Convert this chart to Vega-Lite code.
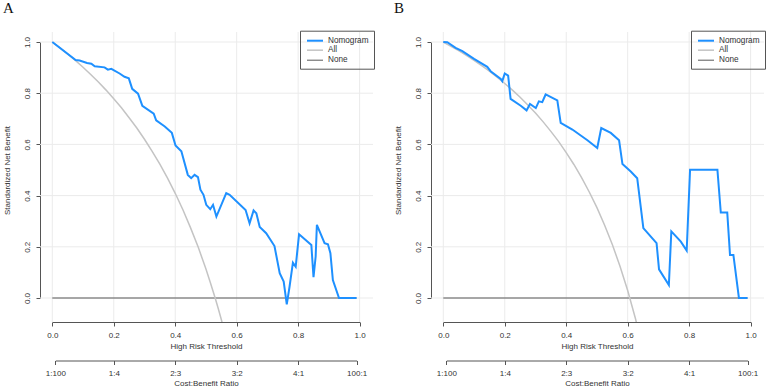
{
  "$schema": "https://vega.github.io/schema/vega-lite/v6.json",
  "background": "white",
  "padding": {"left": 3, "top": 1, "right": 0, "bottom": 0},
  "bounds": "flush",
  "spacing": 58,
  "config": {"view": {"stroke": null}},
  "datasets": {
    "grid": [{"g": 0}, {"g": 0.2}, {"g": 0.4}, {"g": 0.6}, {"g": 0.8}, {"g": 1}],
    "cb": [{"cb": 0.0099}, {"cb": 0.9901}],
    "a": [
      {"series": "None", "t": 0, "nb": 0}, {"series": "None", "t": 0.99, "nb": 0},
      {"series": "All", "t": 0, "nb": 1}, {"series": "All", "t": 0.025, "nb": 0.977}, {"series": "All", "t": 0.05, "nb": 0.953}, {"series": "All", "t": 0.075, "nb": 0.928}, {"series": "All", "t": 0.1, "nb": 0.9015}, {"series": "All", "t": 0.125, "nb": 0.873}, {"series": "All", "t": 0.15, "nb": 0.8435}, {"series": "All", "t": 0.175, "nb": 0.812}, {"series": "All", "t": 0.2, "nb": 0.778}, {"series": "All", "t": 0.225, "nb": 0.743}, {"series": "All", "t": 0.25, "nb": 0.704}, {"series": "All", "t": 0.275, "nb": 0.664}, {"series": "All", "t": 0.3, "nb": 0.62}, {"series": "All", "t": 0.325, "nb": 0.573}, {"series": "All", "t": 0.35, "nb": 0.5225}, {"series": "All", "t": 0.375, "nb": 0.468}, {"series": "All", "t": 0.4, "nb": 0.409}, {"series": "All", "t": 0.425, "nb": 0.3445}, {"series": "All", "t": 0.45, "nb": 0.274}, {"series": "All", "t": 0.475, "nb": 0.198}, {"series": "All", "t": 0.5, "nb": 0.113}, {"series": "All", "t": 0.515, "nb": 0.058}, {"series": "All", "t": 0.53, "nb": 0.0}, {"series": "All", "t": 0.54, "nb": -0.041}, {"series": "All", "t": 0.55, "nb": -0.084}, {"series": "All", "t": 0.57, "nb": -0.176},
      {"series": "Nomogram", "t": 0, "nb": 1}, {"series": "Nomogram", "t": 0.076, "nb": 0.93}, {"series": "Nomogram", "t": 0.089, "nb": 0.928}, {"series": "Nomogram", "t": 0.113, "nb": 0.918}, {"series": "Nomogram", "t": 0.127, "nb": 0.915}, {"series": "Nomogram", "t": 0.138, "nb": 0.905}, {"series": "Nomogram", "t": 0.17, "nb": 0.901}, {"series": "Nomogram", "t": 0.181, "nb": 0.892}, {"series": "Nomogram", "t": 0.192, "nb": 0.895}, {"series": "Nomogram", "t": 0.219, "nb": 0.877}, {"series": "Nomogram", "t": 0.235, "nb": 0.864}, {"series": "Nomogram", "t": 0.249, "nb": 0.858}, {"series": "Nomogram", "t": 0.26, "nb": 0.817}, {"series": "Nomogram", "t": 0.279, "nb": 0.798}, {"series": "Nomogram", "t": 0.293, "nb": 0.751}, {"series": "Nomogram", "t": 0.33, "nb": 0.72}, {"series": "Nomogram", "t": 0.338, "nb": 0.694}, {"series": "Nomogram", "t": 0.366, "nb": 0.67}, {"series": "Nomogram", "t": 0.389, "nb": 0.645}, {"series": "Nomogram", "t": 0.401, "nb": 0.596}, {"series": "Nomogram", "t": 0.42, "nb": 0.573}, {"series": "Nomogram", "t": 0.441, "nb": 0.481}, {"series": "Nomogram", "t": 0.452, "nb": 0.468}, {"series": "Nomogram", "t": 0.463, "nb": 0.481}, {"series": "Nomogram", "t": 0.474, "nb": 0.472}, {"series": "Nomogram", "t": 0.482, "nb": 0.423}, {"series": "Nomogram", "t": 0.492, "nb": 0.403}, {"series": "Nomogram", "t": 0.501, "nb": 0.364}, {"series": "Nomogram", "t": 0.514, "nb": 0.347}, {"series": "Nomogram", "t": 0.523, "nb": 0.364}, {"series": "Nomogram", "t": 0.534, "nb": 0.318}, {"series": "Nomogram", "t": 0.566, "nb": 0.41}, {"series": "Nomogram", "t": 0.577, "nb": 0.403}, {"series": "Nomogram", "t": 0.629, "nb": 0.344}, {"series": "Nomogram", "t": 0.642, "nb": 0.292}, {"series": "Nomogram", "t": 0.655, "nb": 0.342}, {"series": "Nomogram", "t": 0.664, "nb": 0.331}, {"series": "Nomogram", "t": 0.675, "nb": 0.277}, {"series": "Nomogram", "t": 0.696, "nb": 0.253}, {"series": "Nomogram", "t": 0.723, "nb": 0.203}, {"series": "Nomogram", "t": 0.74, "nb": 0.097}, {"series": "Nomogram", "t": 0.753, "nb": 0.064}, {"series": "Nomogram", "t": 0.763, "nb": -0.025}, {"series": "Nomogram", "t": 0.772, "nb": 0.044}, {"series": "Nomogram", "t": 0.783, "nb": 0.138}, {"series": "Nomogram", "t": 0.792, "nb": 0.122}, {"series": "Nomogram", "t": 0.803, "nb": 0.249}, {"series": "Nomogram", "t": 0.843, "nb": 0.207}, {"series": "Nomogram", "t": 0.85, "nb": 0.081}, {"series": "Nomogram", "t": 0.857, "nb": 0.162}, {"series": "Nomogram", "t": 0.861, "nb": 0.286}, {"series": "Nomogram", "t": 0.886, "nb": 0.214}, {"series": "Nomogram", "t": 0.897, "nb": 0.21}, {"series": "Nomogram", "t": 0.905, "nb": 0.175}, {"series": "Nomogram", "t": 0.913, "nb": 0.07}, {"series": "Nomogram", "t": 0.933, "nb": 0}, {"series": "Nomogram", "t": 0.99, "nb": 0}
    ],
    "b": [
      {"series": "None", "t": 0, "nb": 0}, {"series": "None", "t": 0.99, "nb": 0},
      {"series": "All", "t": 0, "nb": 1}, {"series": "All", "t": 0.025, "nb": 0.983}, {"series": "All", "t": 0.05, "nb": 0.966}, {"series": "All", "t": 0.075, "nb": 0.9475}, {"series": "All", "t": 0.1, "nb": 0.928}, {"series": "All", "t": 0.125, "nb": 0.9075}, {"series": "All", "t": 0.15, "nb": 0.886}, {"series": "All", "t": 0.175, "nb": 0.863}, {"series": "All", "t": 0.2, "nb": 0.838}, {"series": "All", "t": 0.225, "nb": 0.812}, {"series": "All", "t": 0.25, "nb": 0.784}, {"series": "All", "t": 0.275, "nb": 0.754}, {"series": "All", "t": 0.3, "nb": 0.7225}, {"series": "All", "t": 0.325, "nb": 0.688}, {"series": "All", "t": 0.35, "nb": 0.651}, {"series": "All", "t": 0.375, "nb": 0.612}, {"series": "All", "t": 0.4, "nb": 0.568}, {"series": "All", "t": 0.425, "nb": 0.5215}, {"series": "All", "t": 0.45, "nb": 0.47}, {"series": "All", "t": 0.475, "nb": 0.414}, {"series": "All", "t": 0.5, "nb": 0.353}, {"series": "All", "t": 0.525, "nb": 0.2845}, {"series": "All", "t": 0.55, "nb": 0.209}, {"series": "All", "t": 0.575, "nb": 0.124}, {"series": "All", "t": 0.6, "nb": 0.029}, {"series": "All", "t": 0.625, "nb": -0.079}, {"series": "All", "t": 0.65, "nb": -0.202},
      {"series": "Nomogram", "t": 0, "nb": 1}, {"series": "Nomogram", "t": 0.013, "nb": 0.999}, {"series": "Nomogram", "t": 0.04, "nb": 0.977}, {"series": "Nomogram", "t": 0.062, "nb": 0.964}, {"series": "Nomogram", "t": 0.1, "nb": 0.934}, {"series": "Nomogram", "t": 0.143, "nb": 0.903}, {"series": "Nomogram", "t": 0.154, "nb": 0.886}, {"series": "Nomogram", "t": 0.187, "nb": 0.856}, {"series": "Nomogram", "t": 0.192, "nb": 0.847}, {"series": "Nomogram", "t": 0.2, "nb": 0.877}, {"series": "Nomogram", "t": 0.211, "nb": 0.869}, {"series": "Nomogram", "t": 0.219, "nb": 0.778}, {"series": "Nomogram", "t": 0.252, "nb": 0.751}, {"series": "Nomogram", "t": 0.271, "nb": 0.733}, {"series": "Nomogram", "t": 0.282, "nb": 0.758}, {"series": "Nomogram", "t": 0.301, "nb": 0.742}, {"series": "Nomogram", "t": 0.311, "nb": 0.768}, {"series": "Nomogram", "t": 0.322, "nb": 0.765}, {"series": "Nomogram", "t": 0.333, "nb": 0.795}, {"series": "Nomogram", "t": 0.371, "nb": 0.772}, {"series": "Nomogram", "t": 0.382, "nb": 0.684}, {"series": "Nomogram", "t": 0.42, "nb": 0.658}, {"series": "Nomogram", "t": 0.469, "nb": 0.616}, {"series": "Nomogram", "t": 0.501, "nb": 0.586}, {"series": "Nomogram", "t": 0.514, "nb": 0.664}, {"series": "Nomogram", "t": 0.545, "nb": 0.645}, {"series": "Nomogram", "t": 0.572, "nb": 0.616}, {"series": "Nomogram", "t": 0.583, "nb": 0.523}, {"series": "Nomogram", "t": 0.61, "nb": 0.494}, {"series": "Nomogram", "t": 0.631, "nb": 0.468}, {"series": "Nomogram", "t": 0.651, "nb": 0.273}, {"series": "Nomogram", "t": 0.694, "nb": 0.214}, {"series": "Nomogram", "t": 0.702, "nb": 0.112}, {"series": "Nomogram", "t": 0.734, "nb": 0.051}, {"series": "Nomogram", "t": 0.742, "nb": 0.26}, {"series": "Nomogram", "t": 0.773, "nb": 0.22}, {"series": "Nomogram", "t": 0.792, "nb": 0.185}, {"series": "Nomogram", "t": 0.803, "nb": 0.501}, {"series": "Nomogram", "t": 0.892, "nb": 0.501}, {"series": "Nomogram", "t": 0.903, "nb": 0.334}, {"series": "Nomogram", "t": 0.924, "nb": 0.334}, {"series": "Nomogram", "t": 0.933, "nb": 0.168}, {"series": "Nomogram", "t": 0.944, "nb": 0.168}, {"series": "Nomogram", "t": 0.962, "nb": 0}, {"series": "Nomogram", "t": 0.99, "nb": 0}
    ]
  },
  "resolve": {
    "scale": {"x": "independent", "y": "independent", "color": "independent", "strokeWidth": "independent"},
    "legend": {"color": "independent", "strokeWidth": "independent"}
  },
  "hconcat": [
    {
      "width": 333, "height": 290,
      "title": {"text": "A", "anchor": "start", "frame": "group", "dx": -37, "offset": 14, "font": "Liberation Serif", "fontSize": 15, "fontWeight": "normal", "color": "#111"},
      "resolve": {"scale": {"x": "independent"}, "axis": {"x": "independent"}},
      "layer": [
        {"data": {"name": "grid"}, "mark": {"type": "rule", "color": "#ebebeb", "strokeWidth": 1},
         "encoding": {"x": {"field": "g", "type": "quantitative", "scale": {"domain": [0, 1], "range": [12.3, 319.6], "nice": false, "zero": false},
           "axis": {"orient": "bottom", "values": [0, 0.2, 0.4, 0.6, 0.8, 1], "format": ".1f", "title": "High Risk Threshold", "grid": false, "domainColor": "#555", "tickColor": "#555", "tickSize": 4, "labelPadding": 5.5, "labelFont": "Liberation Sans", "labelFontSize": 8, "labelColor": "#333", "titleFont": "Liberation Sans", "titleFontSize": 8, "titleFontWeight": "normal", "titleColor": "#333", "titlePadding": 3, "labelFlush": false, "labelOverlap": false}}}},
        {"data": {"name": "grid"}, "mark": {"type": "rule", "color": "#ebebeb", "strokeWidth": 1},
         "encoding": {"y": {"field": "g", "type": "quantitative", "scale": {"domain": [0, 1], "range": [266, 10], "nice": false, "zero": false},
           "axis": {"orient": "left", "values": [0, 0.2, 0.4, 0.6, 0.8, 1], "format": ".1f", "title": "Standardized Net Benefit", "grid": false, "domainColor": "#555", "tickColor": "#555", "tickSize": 4, "labelAngle": 270, "labelAlign": "center", "labelBaseline": "bottom", "labelPadding": 4.5, "labelFont": "Liberation Sans", "labelFontSize": 8, "labelColor": "#333", "titleFont": "Liberation Sans", "titleFontSize": 8, "titleFontWeight": "normal", "titleColor": "#333", "titlePadding": 12.5, "labelFlush": false, "labelOverlap": false}}}},
        {"data": {"name": "cb"}, "mark": {"type": "rule", "opacity": 0},
         "encoding": {"x": {"field": "cb", "type": "quantitative", "scale": {"domain": [0.0099, 0.9901], "range": [15.34, 316.6], "nice": false, "zero": false},
           "axis": {"orient": "bottom", "offset": 38.5, "values": [0.0099, 0.2, 0.4, 0.6, 0.8, 0.9901], "labelExpr": "datum.value < 0.1 ? '1:100' : datum.value < 0.3 ? '1:4' : datum.value < 0.5 ? '2:3' : datum.value < 0.7 ? '3:2' : datum.value < 0.9 ? '4:1' : '100:1'", "title": "Cost:Benefit Ratio", "grid": false, "domainColor": "#555", "tickColor": "#555", "tickSize": 4, "labelPadding": 4.8, "labelFont": "Liberation Sans", "labelFontSize": 8, "labelColor": "#333", "titleFont": "Liberation Sans", "titleFontSize": 8, "titleFontWeight": "normal", "titleColor": "#333", "titlePadding": 2, "labelFlush": false, "labelOverlap": false}}}},
        {"data": {"name": "a"}, "transform": [{"filter": "datum.series === 'None'"}], "mark": {"type": "line", "clip": true},
         "encoding": {"x": {"field": "t", "type": "quantitative", "scale": {"domain": [0, 1], "range": [12.3, 319.6], "nice": false, "zero": false}, "axis": null},
           "y": {"field": "nb", "type": "quantitative", "scale": {"domain": [0, 1], "range": [266, 10], "nice": false, "zero": false}},
           "color": {"field": "series", "type": "nominal", "scale": {"domain": ["Nomogram", "All", "None"], "range": ["#1E90FF", "#C4C4C4", "#595959"]},
             "legend": {"orient": "none", "legendX": 260, "legendY": -1.3, "title": null, "symbolType": "M-2,0H2", "symbolSize": 64, "strokeColor": "#555", "padding": 5, "labelFont": "Liberation Sans", "labelFontSize": 8.2, "labelColor": "#333", "rowPadding": 0.5, "labelOffset": 8, "symbolOffset": 5}},
           "strokeWidth": {"field": "series", "type": "nominal", "scale": {"domain": ["Nomogram", "All", "None"], "range": [2, 1, 1.3]},
             "legend": {"orient": "none", "legendX": 260, "legendY": -1.3, "title": null, "symbolType": "M-2,0H2", "symbolSize": 64, "strokeColor": "#555", "padding": 5, "labelFont": "Liberation Sans", "labelFontSize": 8.2, "labelColor": "#333", "rowPadding": 0.5, "labelOffset": 8, "symbolOffset": 5}}}},
        {"data": {"name": "a"}, "transform": [{"filter": "datum.series === 'All'"}], "mark": {"type": "line", "clip": true},
         "encoding": {"x": {"field": "t", "type": "quantitative", "scale": {"domain": [0, 1], "range": [12.3, 319.6], "nice": false, "zero": false}, "axis": null},
           "y": {"field": "nb", "type": "quantitative", "scale": {"domain": [0, 1], "range": [266, 10], "nice": false, "zero": false}},
           "color": {"field": "series", "type": "nominal", "scale": {"domain": ["Nomogram", "All", "None"], "range": ["#1E90FF", "#C4C4C4", "#595959"]}},
           "strokeWidth": {"field": "series", "type": "nominal", "scale": {"domain": ["Nomogram", "All", "None"], "range": [2, 1, 1.3]}}}},
        {"data": {"name": "a"}, "transform": [{"filter": "datum.series === 'Nomogram'"}], "mark": {"type": "line", "clip": true},
         "encoding": {"x": {"field": "t", "type": "quantitative", "scale": {"domain": [0, 1], "range": [12.3, 319.6], "nice": false, "zero": false}, "axis": null},
           "y": {"field": "nb", "type": "quantitative", "scale": {"domain": [0, 1], "range": [266, 10], "nice": false, "zero": false}},
           "color": {"field": "series", "type": "nominal", "scale": {"domain": ["Nomogram", "All", "None"], "range": ["#1E90FF", "#C4C4C4", "#595959"]}},
           "strokeWidth": {"field": "series", "type": "nominal", "scale": {"domain": ["Nomogram", "All", "None"], "range": [2, 1, 1.3]}}}}
      ]
    },
    {
      "width": 333, "height": 290,
      "title": {"text": "B", "anchor": "start", "frame": "group", "dx": -37, "offset": 14, "font": "Liberation Serif", "fontSize": 15, "fontWeight": "normal", "color": "#111"},
      "resolve": {"scale": {"x": "independent"}, "axis": {"x": "independent"}},
      "layer": [
        {"data": {"name": "grid"}, "mark": {"type": "rule", "color": "#ebebeb", "strokeWidth": 1},
         "encoding": {"x": {"field": "g", "type": "quantitative", "scale": {"domain": [0, 1], "range": [12.3, 319.6], "nice": false, "zero": false},
           "axis": {"orient": "bottom", "values": [0, 0.2, 0.4, 0.6, 0.8, 1], "format": ".1f", "title": "High Risk Threshold", "grid": false, "domainColor": "#555", "tickColor": "#555", "tickSize": 4, "labelPadding": 5.5, "labelFont": "Liberation Sans", "labelFontSize": 8, "labelColor": "#333", "titleFont": "Liberation Sans", "titleFontSize": 8, "titleFontWeight": "normal", "titleColor": "#333", "titlePadding": 3, "labelFlush": false, "labelOverlap": false}}}},
        {"data": {"name": "grid"}, "mark": {"type": "rule", "color": "#ebebeb", "strokeWidth": 1},
         "encoding": {"y": {"field": "g", "type": "quantitative", "scale": {"domain": [0, 1], "range": [266, 10], "nice": false, "zero": false},
           "axis": {"orient": "left", "values": [0, 0.2, 0.4, 0.6, 0.8, 1], "format": ".1f", "title": "Standardized Net Benefit", "grid": false, "domainColor": "#555", "tickColor": "#555", "tickSize": 4, "labelAngle": 270, "labelAlign": "center", "labelBaseline": "bottom", "labelPadding": 4.5, "labelFont": "Liberation Sans", "labelFontSize": 8, "labelColor": "#333", "titleFont": "Liberation Sans", "titleFontSize": 8, "titleFontWeight": "normal", "titleColor": "#333", "titlePadding": 12.5, "labelFlush": false, "labelOverlap": false}}}},
        {"data": {"name": "cb"}, "mark": {"type": "rule", "opacity": 0},
         "encoding": {"x": {"field": "cb", "type": "quantitative", "scale": {"domain": [0.0099, 0.9901], "range": [15.34, 316.6], "nice": false, "zero": false},
           "axis": {"orient": "bottom", "offset": 38.5, "values": [0.0099, 0.2, 0.4, 0.6, 0.8, 0.9901], "labelExpr": "datum.value < 0.1 ? '1:100' : datum.value < 0.3 ? '1:4' : datum.value < 0.5 ? '2:3' : datum.value < 0.7 ? '3:2' : datum.value < 0.9 ? '4:1' : '100:1'", "title": "Cost:Benefit Ratio", "grid": false, "domainColor": "#555", "tickColor": "#555", "tickSize": 4, "labelPadding": 4.8, "labelFont": "Liberation Sans", "labelFontSize": 8, "labelColor": "#333", "titleFont": "Liberation Sans", "titleFontSize": 8, "titleFontWeight": "normal", "titleColor": "#333", "titlePadding": 2, "labelFlush": false, "labelOverlap": false}}}},
        {"data": {"name": "b"}, "transform": [{"filter": "datum.series === 'None'"}], "mark": {"type": "line", "clip": true},
         "encoding": {"x": {"field": "t", "type": "quantitative", "scale": {"domain": [0, 1], "range": [12.3, 319.6], "nice": false, "zero": false}, "axis": null},
           "y": {"field": "nb", "type": "quantitative", "scale": {"domain": [0, 1], "range": [266, 10], "nice": false, "zero": false}},
           "color": {"field": "series", "type": "nominal", "scale": {"domain": ["Nomogram", "All", "None"], "range": ["#1E90FF", "#C4C4C4", "#595959"]},
             "legend": {"orient": "none", "legendX": 260, "legendY": -1.3, "title": null, "symbolType": "M-2,0H2", "symbolSize": 64, "strokeColor": "#555", "padding": 5, "labelFont": "Liberation Sans", "labelFontSize": 8.2, "labelColor": "#333", "rowPadding": 0.5, "labelOffset": 8, "symbolOffset": 5}},
           "strokeWidth": {"field": "series", "type": "nominal", "scale": {"domain": ["Nomogram", "All", "None"], "range": [2, 1, 1.3]},
             "legend": {"orient": "none", "legendX": 260, "legendY": -1.3, "title": null, "symbolType": "M-2,0H2", "symbolSize": 64, "strokeColor": "#555", "padding": 5, "labelFont": "Liberation Sans", "labelFontSize": 8.2, "labelColor": "#333", "rowPadding": 0.5, "labelOffset": 8, "symbolOffset": 5}}}},
        {"data": {"name": "b"}, "transform": [{"filter": "datum.series === 'All'"}], "mark": {"type": "line", "clip": true},
         "encoding": {"x": {"field": "t", "type": "quantitative", "scale": {"domain": [0, 1], "range": [12.3, 319.6], "nice": false, "zero": false}, "axis": null},
           "y": {"field": "nb", "type": "quantitative", "scale": {"domain": [0, 1], "range": [266, 10], "nice": false, "zero": false}},
           "color": {"field": "series", "type": "nominal", "scale": {"domain": ["Nomogram", "All", "None"], "range": ["#1E90FF", "#C4C4C4", "#595959"]}},
           "strokeWidth": {"field": "series", "type": "nominal", "scale": {"domain": ["Nomogram", "All", "None"], "range": [2, 1, 1.3]}}}},
        {"data": {"name": "b"}, "transform": [{"filter": "datum.series === 'Nomogram'"}], "mark": {"type": "line", "clip": true},
         "encoding": {"x": {"field": "t", "type": "quantitative", "scale": {"domain": [0, 1], "range": [12.3, 319.6], "nice": false, "zero": false}, "axis": null},
           "y": {"field": "nb", "type": "quantitative", "scale": {"domain": [0, 1], "range": [266, 10], "nice": false, "zero": false}},
           "color": {"field": "series", "type": "nominal", "scale": {"domain": ["Nomogram", "All", "None"], "range": ["#1E90FF", "#C4C4C4", "#595959"]}},
           "strokeWidth": {"field": "series", "type": "nominal", "scale": {"domain": ["Nomogram", "All", "None"], "range": [2, 1, 1.3]}}}}
      ]
    }
  ]
}
